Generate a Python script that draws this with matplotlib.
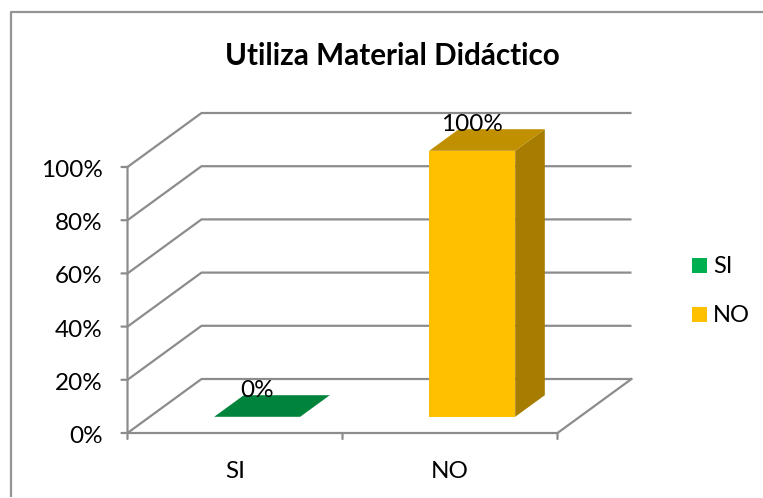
import matplotlib
matplotlib.use("Agg")
import matplotlib.pyplot as plt
from matplotlib.patches import Polygon, Rectangle

plt.rcParams['font.family'] = ['Lato', 'DejaVu Sans']

title = "Utiliza Material Didáctico"
categories = ["SI", "NO"]
values = [0, 100]
value_labels = ["0%", "100%"]
y_ticks = [0, 20, 40, 60, 80, 100]
y_tick_labels = ["0%", "20%", "40%", "60%", "80%", "100%"]
front_colors = ["#00B050", "#FFC000"]
top_colors = ["#00843C", "#C09000"]
side_colors = ["#007A37", "#A67D00"]

W, H = 763, 498
GREY = "#8C8C8C"
fig = plt.figure(figsize=(W / 100, H / 100), dpi=100, facecolor="white")
ax = fig.add_axes([127.5 / W, (H - 433) / H, 430 / W, 266 / H])
ax.set_xlim(-0.5, 1.5)
ax.set_ylim(0, 100)
ax.axis("off")

DX = 74 / 215        # depth shift, category units
DY = 54 / 266 * 100  # depth shift, percent units


def proj(x, y, d):
    return (x + d * DX, y + d * DY)


lw = 1.6
xl, xr = -0.5, 1.5
for v in y_ticks:
    pts = [proj(xl, v, 0), proj(xl, v, 1), proj(xr, v, 1)]
    ax.plot(*zip(*pts), color=GREY, lw=lw, clip_on=False, solid_capstyle="butt", zorder=1)
# floor outline and wall
ax.plot(*zip(proj(xr, 0, 1), proj(xr, 0, 0), proj(xl, 0, 0), proj(xl, 100, 0)),
        color=GREY, lw=lw, clip_on=False, zorder=1)
# ticks and tick labels
for v, lab in zip(y_ticks, y_tick_labels):
    ax.annotate("", xy=(xl, v), xytext=(-6, 0), textcoords="offset pixels",
                arrowprops=dict(arrowstyle="-", color=GREY, lw=lw, shrinkA=0, shrinkB=0),
                annotation_clip=False)
    ax.annotate(lab, xy=(xl, v), xytext=(-25, -1.5), textcoords="offset pixels",
                ha="right", va="center_baseline", fontsize=17.5, color="black",
                annotation_clip=False)
for x in [-0.5, 0.5, 1.5]:
    ax.annotate("", xy=(x, 0), xytext=(0, -6), textcoords="offset pixels",
                arrowprops=dict(arrowstyle="-", color=GREY, lw=lw, shrinkA=0, shrinkB=0),
                annotation_clip=False)

BW = 0.4
D0, D1 = 0.3, 0.7
for i, (v, vl) in enumerate(zip(values, value_labels)):
    l, r = i - BW / 2, i + BW / 2
    ax.add_patch(Polygon([proj(l, 0, D0), proj(r, 0, D0), proj(r, v, D0), proj(l, v, D0)],
                         fc=front_colors[i], ec="none", zorder=3, clip_on=False))
    ax.add_patch(Polygon([proj(r, 0, D0), proj(r, 0, D1), proj(r, v, D1), proj(r, v, D0)],
                         fc=side_colors[i], ec="none", zorder=3, clip_on=False))
    ax.add_patch(Polygon([proj(l, v, D0), proj(r, v, D0), proj(r, v, D1), proj(l, v, D1)],
                         fc=top_colors[i], ec="none", zorder=3, clip_on=False))
    ax.annotate(vl, xy=proj(i, v, D0), xytext=(0, 28), textcoords="offset pixels", ha="center",
                va="center_baseline", fontsize=17.5, color="black", zorder=5,
                annotation_clip=False)
    ax.annotate(categories[i], xy=(i, 0), xytext=(0, -36.5), textcoords="offset pixels",
                ha="center", va="center_baseline", fontsize=17.5, color="black",
                annotation_clip=False)

fig.text(392.5 / W, 1 - 56 / H, title, ha="center", va="center", fontsize=21.3, fontweight="bold")

# legend
for name, col, yc in zip(categories, front_colors, [266, 315]):
    fig.add_artist(Rectangle((692 / W, 1 - (yc + 7.5) / H), 15 / W, 15 / H,
                             transform=fig.transFigure, fc=col, ec="none"))
    fig.text(713 / W, 1 - (yc + 0.5) / H, name, ha="left", va="center", fontsize=17, color="black")

# frame
fig.add_artist(plt.Line2D([10.5 / W, 10.5 / W, 1], [1 / H, 1 - 12.5 / H, 1 - 12.5 / H],
                          transform=fig.transFigure, color="#949494", lw=1.6,
                          solid_capstyle="butt"))

fig.savefig("out.png", dpi=100)
